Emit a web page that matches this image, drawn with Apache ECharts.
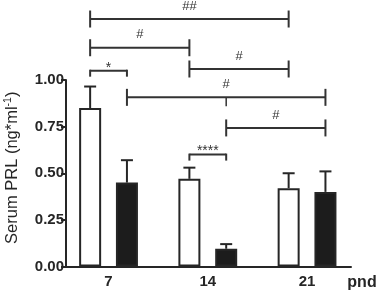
<!DOCTYPE html>
<html><head><meta charset="utf-8">
<script src="https://cdn.jsdelivr.net/npm/echarts@6/dist/echarts.min.js"></script>
<style>html,body{margin:0;padding:0;background:#fff}#c{width:380px;height:294px}</style>
</head><body><div id="c"></div>
<script>
// ---- data ----
const days = [7, 14, 21];
const controlMean = [0.85, 0.47, 0.42];
const controlSem = [0.115, 0.06, 0.08];
const treatedMean = [0.45, 0.095, 0.40];
const treatedSem = [0.12, 0.025, 0.11];
const yTicks = [0, 0.25, 0.5, 0.75, 1.0];
const sigLabels = ['##', '#', '#', '#', '#', '*', '****'];
const sigFromDay = [7, 7, 14, 7, 14, 7, 14];
const sigFromSeries = [0, 0, 0, 1, 1, 0, 0];
const sigToDay = [21, 14, 21, 21, 21, 7, 14];
const sigToSeries = [0, 0, 0, 1, 1, 1, 1];
const sigLevel = [1.327, 1.173, 1.059, 0.907, 0.743, 1.05, 0.60];
const sigJoinDay = [null, null, null, 14, null, null, null];
const sigJoinSeries = [null, null, null, 1, null, null, null];

// ---- styling ----
const INK = '#262626';
const FONT = "'Liberation Sans', Arial, sans-serif";
const BAR_W = 22, BAR_GAP_PX = 14.8;
const HALF = (BAR_W + BAR_GAP_PX) / 2;

function barX(api, day, s) {
  return api.coord([day, 0])[0] + (s === 0 ? -HALF : HALF);
}

const errData = [];
days.forEach((d, i) => { errData.push([d, controlMean[i], controlSem[i], 0]); });
days.forEach((d, i) => { errData.push([d, treatedMean[i], treatedSem[i], 1]); });

const sigData = sigLabels.map((_, i) => [sigFromDay[i], sigLevel[i], sigToDay[i]]);

const chart = echarts.init(document.getElementById('c'), null, {renderer: 'canvas'});
chart.setOption({
  animation: false,
  backgroundColor: '#fff',
  grid: {left: 66, right: 29, top: 80, bottom: 27.5, outerBoundsMode: 'none', containLabel: false},
  xAxis: {
    type: 'value', min: 4, max: 24.1,
    name: 'pnd', nameLocation: 'end', nameGap: 11,
    nameTextStyle: {fontFamily: FONT, fontWeight: 'bold', fontSize: 16, color: INK, align: 'center', verticalAlign: 'top', padding: [8, 0, 0, 0]},
    axisLine: {show: true, lineStyle: {color: INK, width: 2}},
    axisTick: {show: false},
    splitLine: {show: false},
    axisLabel: {customValues: days, fontFamily: FONT, fontWeight: 'bold', fontSize: 15, color: INK, margin: 8,
      formatter: v => String(v)}
  },
  yAxis: {
    type: 'value', min: yTicks[0], max: yTicks[yTicks.length - 1], interval: 0.25,
    name: 'Serum PRL (ng*ml{sup|-1})', nameLocation: 'middle', nameGap: 45,
    nameTextStyle: {fontFamily: FONT, fontSize: 16.5, color: INK, padding: [0, 0, 0, 11],
      rich: {sup: {fontFamily: FONT, fontSize: 10.5, color: INK, verticalAlign: 'bottom', padding: [0, 0, 7, 0]}}},
    axisLine: {show: true, lineStyle: {color: INK, width: 2}},
    axisTick: {show: true, length: 5, lineStyle: {color: INK, width: 2}},
    splitLine: {show: false},
    axisLabel: {fontFamily: FONT, fontWeight: 'bold', fontSize: 15, color: INK, margin: 2,
      formatter: v => v.toFixed(2)}
  },
  series: [
    {type: 'bar', name: 'control', barWidth: BAR_W, barGap: (BAR_GAP_PX / BAR_W * 100) + '%',
      data: days.map((d, i) => [d, controlMean[i]]),
      itemStyle: {color: '#fff', borderColor: INK, borderWidth: 2}},
    {type: 'bar', name: 'treated', barWidth: BAR_W,
      data: days.map((d, i) => [d, treatedMean[i]]),
      itemStyle: {color: '#1c1c1c', borderColor: INK, borderWidth: 2}},
    {type: 'custom', name: 'sem', clip: false, z: 5,
      data: errData,
      renderItem: (params, api) => {
        const d = api.value(0), m = api.value(1), e = api.value(2), s = api.value(3);
        const x = barX(api, d, s);
        const y0 = api.coord([d, m])[1];
        const y1 = api.coord([d, m + e])[1];
        return {type: 'group', children: [
          {type: 'line', shape: {x1: x, y1: y0, x2: x, y2: y1}, style: {stroke: INK, lineWidth: 2}},
          {type: 'line', shape: {x1: x - 6, y1: y1, x2: x + 6, y2: y1}, style: {stroke: INK, lineWidth: 2}}
        ]};
      }},
    {type: 'custom', name: 'sig', clip: false, z: 6,
      data: sigData,
      renderItem: (params, api) => {
        const i = params.dataIndex;
        const xa = barX(api, sigFromDay[i], sigFromSeries[i]);
        const xb = barX(api, sigToDay[i], sigToSeries[i]);
        const y = api.coord([days[0], sigLevel[i]])[1];
        const isHash = sigLabels[i][0] === '#';
        const st = {stroke: '#333', lineWidth: 2};
        const ch = [{type: 'line', shape: {x1: xa, y1: y, x2: xb, y2: y}, style: st}];
        if (isHash) {
          ch.push({type: 'line', shape: {x1: xa, y1: y - 8.5, x2: xa, y2: y + 8.5}, style: st});
          ch.push({type: 'line', shape: {x1: xb, y1: y - 8.5, x2: xb, y2: y + 8.5}, style: st});
        } else {
          ch.push({type: 'line', shape: {x1: xa, y1: y - 1, x2: xa, y2: y + 6}, style: st});
          ch.push({type: 'line', shape: {x1: xb, y1: y - 1, x2: xb, y2: y + 6}, style: st});
        }
        if (sigJoinDay[i] !== null) {
          const xj = barX(api, sigJoinDay[i], sigJoinSeries[i]);
          ch.push({type: 'line', shape: {x1: xj, y1: y, x2: xj, y2: y + 9}, style: {stroke: '#333', lineWidth: 1.5}});
        }
        ch.push({type: 'text', x: (xa + xb) / 2, y: isHash ? y - 13 : y - 3,
          style: {text: sigLabels[i], fill: '#333', font: (isHash ? '13px ' : '14px ') + FONT,
            align: 'center', verticalAlign: 'middle'}});
        return {type: 'group', children: ch};
      }}
  ]
});
</script></body></html>
